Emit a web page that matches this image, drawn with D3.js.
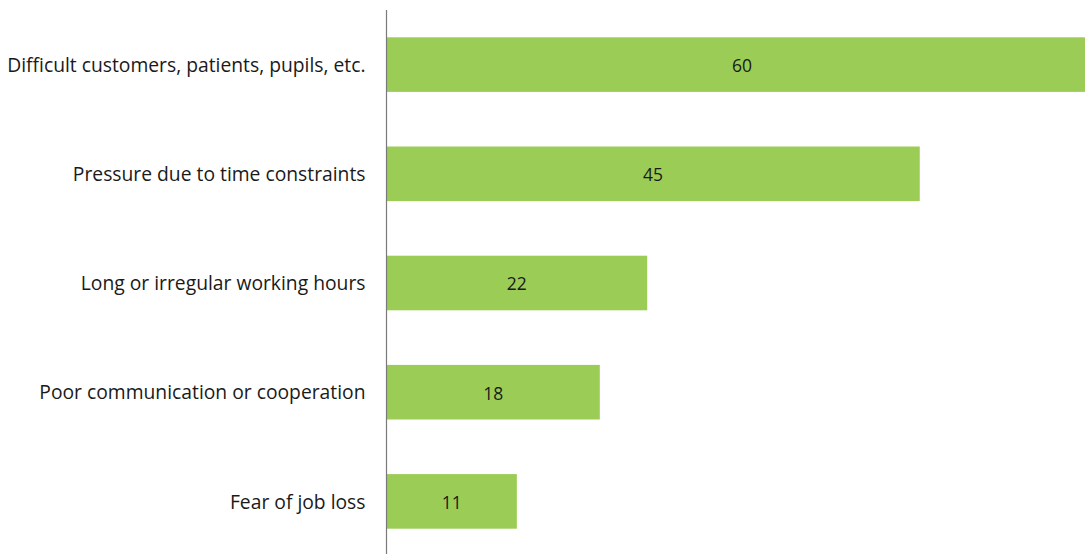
<!DOCTYPE html>
<html>
<head>
<meta charset="utf-8">
<script src="https://cdn.jsdelivr.net/npm/d3@7"></script>
<style>
  html, body { margin: 0; padding: 0; background: #fff; }
  svg { display: block; }
  text { font-family: "Open Sans", "Noto Sans", sans-serif; }
</style>
</head>
<body>
<svg id="chart" width="1085" height="554"></svg>
<script>
// Sources of work-related stress (share of respondents)
const categories = [
  "Difficult customers, patients, pupils, etc.",
  "Pressure due to time constraints",
  "Long or irregular working hours",
  "Poor communication or cooperation",
  "Fear of job loss"
];
const values = [60, 45, 22, 18, 11];

const svg = d3.select("#chart");
const axisX = 386.5;

const x = d3.scaleLinear().domain([0, 60]).range([axisX, axisX + 711]);
const y = d3.scaleBand().domain(categories).range([10, 556])
  .paddingInner(0.5).paddingOuter(0.25);

const data = categories.map((c, i) => ({ cat: c, val: values[i] }));

svg.selectAll("rect.bar").data(data).join("rect")
  .attr("class", "bar")
  .attr("x", x(0))
  .attr("y", d => y(d.cat))
  .attr("width", d => x(d.val) - x(0))
  .attr("height", y.bandwidth())
  .attr("fill", "#9bcd56");

svg.selectAll("text.val").data(data).join("text")
  .attr("class", "val")
  .attr("x", d => (x(0) + x(d.val)) / 2)
  .attr("y", d => y(d.cat) + y.bandwidth() / 2 + 1)
  .attr("dy", "0.36em")
  .attr("text-anchor", "middle")
  .attr("font-size", 17.5)
  .attr("fill", "#1a1a1a")
  .text(d => d.val);

// category axis on the left
const yAxis = d3.axisLeft(y).tickSize(0).tickPadding(21);
const g = svg.append("g").attr("transform", `translate(${axisX},1)`).call(yAxis);
g.select(".domain").remove();
g.selectAll("text")
  .attr("font-size", 19.3)
  .attr("fill", "#1a1a1a")
  .style("font-family", "'Open Sans', 'Noto Sans', sans-serif");

svg.append("line")
  .attr("x1", axisX).attr("x2", axisX)
  .attr("y1", 10).attr("y2", 554)
  .attr("stroke", "#7a7a7a")
  .attr("stroke-width", 1.2);
</script>
</body>
</html>
